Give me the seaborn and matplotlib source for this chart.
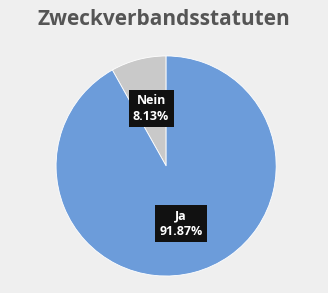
import matplotlib
matplotlib.use("Agg")
import matplotlib.pyplot as plt
import seaborn as sns
import numpy as np

sns.set_theme(style="white")
plt.rcParams['font.family'] = ['Open Sans', 'DejaVu Sans']

title = "Zweckverbandsstatuten"
categories = ["Nein", "Ja"]
values = [8.13, 91.87]
colors = ["#c9c9c9", "#6c9cda"]

fig = plt.figure(figsize=(3.28, 2.93), dpi=100)
fig.patch.set_facecolor("#efefef")
ax = fig.add_axes([0.171, 0.058, 0.671, 0.751])
ax.set_facecolor("none")
wedges, _ = ax.pie(values, colors=colors, startangle=90, counterclock=True,
                   wedgeprops=dict(edgecolor="white", linewidth=0.6))
ax.set_aspect("auto")
for w, cat, v in zip(wedges, categories, values):
    ang = np.deg2rad((w.theta1 + w.theta2) / 2)
    r = 0.54
    ax.text(r * np.cos(ang), r * np.sin(ang), f"{cat}\n{v:.2f}%", ha="center", va="center",
            color="white", fontsize=9, fontweight="bold", linespacing=1.25,
            bbox=dict(boxstyle="square,pad=0.35", facecolor="#111111", edgecolor="none"))
ax.set_xlim(-1, 1)
ax.set_ylim(-1, 1)
fig.text(0.5, 0.932, title, ha="center", va="center", fontsize=15, fontweight="bold", color="#555555")
fig.savefig("out.png", dpi=100, facecolor=fig.get_facecolor())
